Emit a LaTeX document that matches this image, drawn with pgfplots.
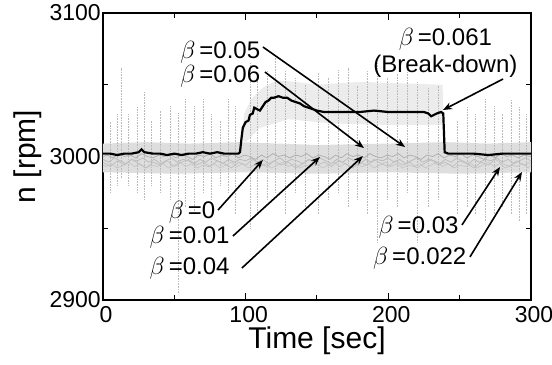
\documentclass[border=0pt]{standalone}
\usepackage{pgfplots}
\pgfplotsset{compat=1.18}
\usepackage{fontspec}
\setmainfont{Liberation Sans}
\usetikzlibrary{arrows.meta}
\begin{document}
\begin{tikzpicture}
\useasboundingbox (-103bp,-65bp) rectangle (449bp,300bp);
\begin{axis}[
  scale only axis, width=428bp, height=287bp,
  at={(0,0)}, anchor=south west,
  xmin=0, xmax=300, ymin=2900, ymax=3100,
  xtick={0,100,200,300}, ytick={2900,3000,3100},
  minor xtick={50,150,250}, minor ytick={2950,3050},
  xtick pos=both, ytick pos=both,
  tick align=inside, major tick length=7bp, minor tick length=5bp,
  every tick/.style={black, line width=1bp},
  axis line style={line width=1.3bp},
  /pgf/number format/assume math mode=true,
  /pgf/number format/set thousands separator={},
  tick label style={font=\fontsize{23bp}{27bp}\selectfont, inner sep=1bp},
  xticklabel style={yshift=-5bp, xshift=3bp},
  yticklabel style={xshift=-1bp},
  label style={font=\fontsize{30bp}{34bp}\selectfont},
  xlabel={Time [sec]}, ylabel={n [rpm]},
  xlabel style={at={(axis description cs:0.5,-0.168)}, anchor=base},
  ylabel style={at={(axis description cs:-0.158,0.5)}, anchor=base},
  clip mode=individual,
  unbounded coords=jump,
]
% lower dense noise band
\addplot[draw=none, fill=gray!26] coordinates {
(0,3009) (30,3010) (60,3009) (96,3010) (150,3008) (200,3009) (240,3010) (270,3009) (300,3010)
(300,2989) (250,2988) (200,2989) (150,2988) (100,2989) (50,2988) (0,2989)};
% upper noise band around the beta=0.061 excursion
\addplot[draw=none, fill=gray!15] coordinates {
(97,3012) (99,3030) (104,3040) (112,3048) (122,3053) (135,3052) (150,3050) (180,3052) (210,3051) (238,3050) (239,3022)
(200,3022) (160,3023) (130,3026) (110,3020) (100,3010)};
% vertical noise spikes
\addplot[gray!55, line width=0.6bp, densely dotted] coordinates {
(5,2975) (5,3025) (5,nan)
(10,2980) (10,3030) (10,nan)
(13,2985) (13,3062) (13,nan)
(18,2980) (18,3030) (18,nan)
(24,2975) (24,3035) (24,nan)
(29,2970) (29,3045) (29,nan)
(34,2980) (34,3025) (34,nan)
(40,2975) (40,3032) (40,nan)
(47,2970) (47,3035) (47,nan)
(53,2905) (53,3030) (53,nan)
(58,2965) (58,3040) (58,nan)
(64,2960) (64,3035) (64,nan)
(70,2975) (70,3040) (70,nan)
(76,2970) (76,3030) (76,nan)
(82,2980) (82,3025) (82,nan)
(88,2975) (88,3040) (88,nan)
(93,2960) (93,3035) (93,nan)
(103,2950) (103,3065) (103,nan)
(108,2960) (108,3055) (108,nan)
(115,2970) (115,3060) (115,nan)
(121,2975) (121,3070) (121,nan)
(128,2960) (128,3060) (128,nan)
(135,2975) (135,3055) (135,nan)
(142,2965) (142,3050) (142,nan)
(151,2960) (151,3058) (151,nan)
(158,2970) (158,3055) (158,nan)
(165,2975) (165,3060) (165,nan)
(172,2965) (172,3062) (172,nan)
(178,2970) (178,3050) (178,nan)
(185,2960) (185,3060) (185,nan)
(192,2940) (192,3065) (192,nan)
(199,2970) (199,3055) (199,nan)
(206,2965) (206,3058) (206,nan)
(213,2975) (213,3060) (213,nan)
(220,2940) (220,3052) (220,nan)
(228,2965) (228,3048) (228,nan)
(235,2970) (235,3050) (235,nan)
(248,2960) (248,3025) (248,nan)
(255,2965) (255,3035) (255,nan)
(261,2960) (261,3030) (261,nan)
(268,2955) (268,3040) (268,nan)
(274,2960) (274,3035) (274,nan)
(280,2965) (280,3030) (280,nan)
(286,2960) (286,3040) (286,nan)
(292,2955) (292,3035) (292,nan)
(297,2960) (297,3030)};
% grey traces (beta = 0 ... 0.06)
\addplot[gray!55, line width=0.7bp] coordinates {
(0,2998) (4,2996) (8,2999) (12,2997) (16,2995) (20,2998) (24,2997) (28,2999) (32,2996) (36,2998) (40,2995) (44,2997) (48,2999) (52,2996) (56,2998) (60,2997) (64,2995) (68,2998) (72,2996) (76,2999) (80,2997) (84,2995) (88,2998) (92,2996) (96,2998) (100,2997) (104,2999) (108,2996) (112,2998) (116,2995) (120,2997) (124,2999) (128,2996) (132,2998) (136,2997) (140,2995) (144,2998) (148,2996) (152,2999) (156,2997) (160,2995) (164,2998) (168,2996) (172,2999) (176,2997) (180,2995) (184,2998) (188,2996) (192,2998) (196,2997) (200,2999) (204,2996) (208,2998) (212,2995) (216,2997) (220,2999) (224,2996) (228,2998) (232,2997) (236,2995) (240,2998) (244,2996) (248,2999) (252,2997) (256,2995) (260,2998) (264,2996) (268,2998) (272,2997) (276,2999) (280,2996) (284,2998) (288,2995) (292,2997) (296,2999) (300,2997)};
\addplot[gray!45, line width=0.7bp] coordinates {
(0,2994) (2,2993) (6,2995) (10,2992) (14,2994) (18,2996) (22,2993) (26,2995) (30,2992) (34,2994) (38,2993) (42,2995) (46,2992) (50,2994) (54,2996) (58,2993) (62,2995) (66,2992) (70,2994) (74,2993) (78,2995) (82,2992) (86,2994) (90,2996) (94,2993) (98,2995) (102,2992) (106,2994) (110,2993) (114,2995) (118,2992) (122,2994) (126,2996) (130,2993) (134,2995) (138,2992) (142,2994) (146,2993) (150,2995) (154,2992) (158,2994) (162,2996) (166,2993) (170,2995) (174,2992) (178,2994) (182,2993) (186,2995) (190,2992) (194,2994) (198,2996) (202,2993) (206,2995) (210,2992) (214,2994) (218,2993) (222,2995) (226,2992) (230,2994) (234,2996) (238,2993) (242,2995) (246,2992) (250,2994) (254,2993) (258,2995) (262,2992) (266,2994) (270,2996) (274,2993) (278,2995) (282,2992) (286,2994) (290,2993) (294,2995) (298,2992) (300,2994)};
\addplot[gray!65, line width=0.7bp] coordinates {
(0,3000) (3,3001) (7,2999) (11,3002) (15,3000) (19,3001) (23,2999) (27,3002) (31,3000) (35,2999) (39,3001) (43,3000) (47,3002) (51,2999) (55,3001) (59,3000) (63,2998) (67,3001) (71,3000) (75,3002) (79,2999) (83,3001) (87,3000) (91,3002) (95,2999) (99,3001) (103,3000) (107,2998) (111,3001) (115,2999) (119,3002) (123,3000) (127,3001) (131,2999) (135,3001) (139,3000) (143,3002) (147,2999) (151,3001) (155,3000) (159,2998) (163,3001) (167,2999) (171,3002) (175,3000) (179,3001) (183,2999) (187,3002) (191,3000) (195,2999) (199,3001) (203,3000) (207,3002) (211,2999) (215,3001) (219,3000) (223,2998) (227,3001) (231,3000) (235,3002) (239,2999) (243,3001) (247,3000) (251,3002) (255,2999) (259,3001) (263,3000) (267,2998) (271,3001) (275,2999) (279,3002) (283,3000) (287,3001) (291,2999) (295,3001) (300,3000)};
\addplot[gray!50, line width=0.7bp] coordinates {
(0,2996) (5,2993) (10,2997) (15,2994) (20,2998) (25,2995) (30,2992) (35,2996) (40,2994) (45,2997) (50,2993) (55,2996) (60,2998) (65,2994) (70,2996) (75,2993) (80,2997) (85,2995) (90,2992) (95,2996) (100,2994) (105,2998) (110,2995) (115,2993) (120,2997) (125,2994) (130,2996) (135,2992) (140,2995) (145,2998) (150,2994) (155,2996) (160,2993) (165,2997) (170,2995) (175,2992) (180,2996) (185,2994) (190,2998) (195,2995) (200,2993) (205,2997) (210,2994) (215,2996) (220,2992) (225,2995) (230,2998) (235,2994) (240,2996) (245,2993) (250,2997) (255,2995) (260,2992) (265,2996) (270,2994) (275,2998) (280,2995) (285,2993) (290,2997) (295,2994) (300,2996)};
% beta = 0.061 (break-down)
\addplot[black, line width=2.2bp] coordinates {
(0,3002) (5,3002) (10,3001) (15,3002) (20,3002) (25,3003) (27,3005) (29,3003) (35,3002) (40,3002) (45,3001) (50,3002) (55,3001) (60,3002) (65,3002) (70,3003) (75,3002) (80,3003) (85,3002) (90,3002) (95,3002) (96,3003) (97,3012) (98,3020) (100,3024) (102,3025) (103,3029) (105,3030) (106,3034) (108,3033) (110,3032) (112,3035) (114,3038) (116,3039) (118,3041) (120,3041) (123,3042) (126,3041) (129,3041) (132,3039) (135,3038) (138,3037) (141,3035) (144,3034) (147,3033) (150,3032) (155,3031) (160,3031) (170,3031) (180,3031) (190,3032) (200,3031) (210,3031) (220,3031) (225,3031) (228,3030) (230,3028) (232,3029) (234,3030) (237,3031) (238.5,3030) (239.5,3003) (242,3002) (250,3002) (260,3002) (270,3001) (280,3002) (290,3002) (300,3002)};
% annotations
\begin{scope}[every node/.style={font=\fontsize{24bp}{27bp}\selectfont, inner sep=1bp}]
\node[anchor=east] at (axis cs:111,3072.8) {$\beta$\,=0.05};
\node[anchor=east] at (axis cs:111,3056.1) {$\beta$\,=0.06};
\node[align=center] at (axis cs:240,3072) {$\beta$\,=0.061\\(Break-down)};
\node[anchor=east] at (axis cs:79.5,2961.3) {$\beta$\,=0};
\node[anchor=east] at (axis cs:89.5,2943.9) {$\beta$\,=0.01};
\node[anchor=east] at (axis cs:89.5,2922.3) {$\beta$\,=0.04};
\node[anchor=east] at (axis cs:250,2950.9) {$\beta$\,=0.03};
\node[anchor=east] at (axis cs:255.5,2929.3) {$\beta$\,=0.022};
\end{scope}
\begin{scope}[line width=1.6bp, -{Stealth[length=9bp,width=7bp]}]
\draw (axis cs:112.1,3076.3) -- (axis cs:211.7,3006.6);
\draw (axis cs:113.5,3058.9) -- (axis cs:182.9,3005.9);
\draw (axis cs:280.4,3054.0) -- (axis cs:238.3,3032.4);
\draw (axis cs:80.6,2962.7) -- (axis cs:112.1,2997.6);
\draw (axis cs:91.1,2944.6) -- (axis cs:152.1,2999.7);
\draw (axis cs:97.4,2922.3) -- (axis cs:182.2,3000.3);
\draw (axis cs:251.6,2952.3) -- (axis cs:278.3,2992.7);
\draw (axis cs:257.2,2930.0) -- (axis cs:293.7,2989.2);
\end{scope}
\end{axis}
\end{tikzpicture}
\end{document}
